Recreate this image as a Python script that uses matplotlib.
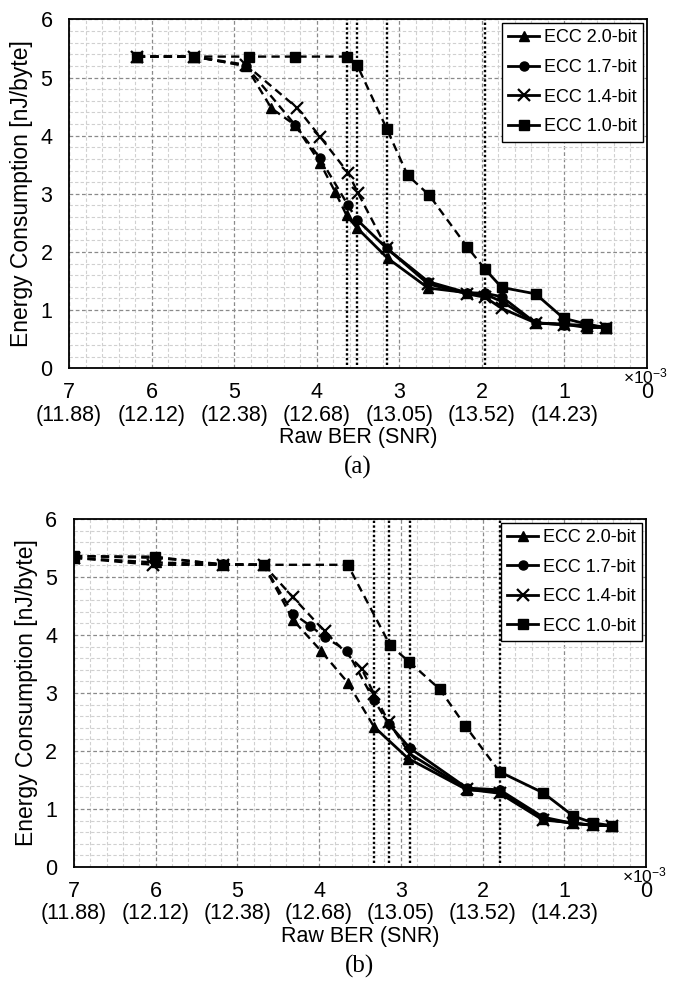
import numpy as np
import matplotlib.pyplot as plt
from matplotlib.ticker import MultipleLocator

plt.rcParams['font.family'] = ['Liberation Sans', 'DejaVu Sans']
plt.rcParams['mathtext.fontset'] = 'custom'
plt.rcParams['mathtext.rm'] = 'Liberation Sans'

names = ["ECC 2.0-bit", "ECC 1.7-bit", "ECC 1.4-bit", "ECC 1.0-bit"]
markers = ["^", "o", "x", "s"]

# panel (a)
a_x20 = [6.18, 5.49, 4.86, 4.55, 4.26, 3.96, 3.78, 3.64, 3.51, 3.14, 2.65, 2.18, 1.96, 1.76, 1.35, 1.01, 0.73, 0.50]
a_y20 = [5.36, 5.36, 5.20, 4.47, 4.18, 3.53, 3.04, 2.63, 2.41, 1.89, 1.38, 1.30, 1.27, 1.15, 0.78, 0.76, 0.70, 0.70]
a_x17 = [6.18, 5.49, 4.86, 4.26, 3.96, 3.62, 3.51, 3.15, 2.65, 2.18, 1.96, 1.76, 1.35, 1.01, 0.73, 0.50]
a_y17 = [5.36, 5.36, 5.20, 4.18, 3.61, 2.80, 2.55, 2.06, 1.49, 1.30, 1.29, 1.23, 0.78, 0.75, 0.74, 0.70]
a_x14 = [6.18, 5.49, 4.86, 4.24, 3.96, 3.62, 3.50, 3.15, 2.65, 2.18, 1.96, 1.76, 1.35, 1.01, 0.73, 0.50]
a_y14 = [5.36, 5.36, 5.22, 4.48, 3.98, 3.36, 3.01, 2.06, 1.45, 1.28, 1.22, 1.03, 0.78, 0.75, 0.73, 0.70]
a_x10 = [6.18, 5.49, 4.82, 4.26, 3.64, 3.51, 3.15, 2.90, 2.64, 2.18, 1.96, 1.76, 1.35, 1.01, 0.73, 0.50]
a_y10 = [5.36, 5.36, 5.36, 5.36, 5.36, 5.21, 4.11, 3.32, 2.98, 2.09, 1.70, 1.39, 1.28, 0.86, 0.76, 0.70]
a_limits = [3.64, 3.51, 3.15, 1.96]

# panel (b)
b_x20 = [7.0, 6.0, 5.18, 4.68, 4.32, 3.98, 3.65, 3.33, 2.91, 2.19, 1.79, 1.26, 0.89, 0.65, 0.41]
b_y20 = [5.33, 5.25, 5.22, 5.21, 4.26, 3.73, 3.18, 2.42, 1.87, 1.33, 1.30, 0.83, 0.75, 0.72, 0.71]
b_x17 = [7.0, 6.0, 5.18, 4.68, 4.32, 4.11, 3.93, 3.66, 3.33, 3.15, 2.89, 2.19, 1.79, 1.26, 0.89, 0.65, 0.41]
b_y17 = [5.36, 5.33, 5.22, 5.21, 4.37, 4.16, 3.96, 3.73, 2.88, 2.47, 2.05, 1.36, 1.33, 0.86, 0.75, 0.72, 0.71]
b_x14 = [7.0, 6.03, 5.18, 4.68, 4.32, 3.93, 3.48, 3.33, 3.15, 2.89, 2.19, 1.79, 1.26, 0.89, 0.65, 0.41]
b_y14 = [5.33, 5.21, 5.21, 5.21, 4.65, 4.06, 3.42, 2.99, 2.50, 1.95, 1.34, 1.27, 0.81, 0.76, 0.72, 0.71]
b_x10 = [7.0, 6.01, 5.18, 4.68, 3.65, 3.13, 2.90, 2.52, 2.21, 1.79, 1.26, 0.89, 0.65, 0.41]
b_y10 = [5.36, 5.35, 5.21, 5.21, 5.21, 3.82, 3.54, 3.06, 2.43, 1.64, 1.28, 0.88, 0.76, 0.71]
b_limits = [3.33, 3.15, 2.89, 1.79]

xticks = [7, 6, 5, 4, 3, 2, 1, 0]
xlabels = ["7\n(11.88)", "6\n(12.12)", "5\n(12.38)", "4\n(12.68)", "3\n(13.05)",
           "2\n(13.52)", "1\n(14.23)", "0\n"]


def panel(ax, xs, ys, limits, tag):
    ax.set_xlim(7, 0)
    ax.set_ylim(0, 6)
    ax.xaxis.set_major_locator(MultipleLocator(1))
    ax.xaxis.set_minor_locator(MultipleLocator(0.2))
    ax.yaxis.set_major_locator(MultipleLocator(1))
    ax.yaxis.set_minor_locator(MultipleLocator(0.2))
    ax.grid(which='major', color='#8a8a8a', linestyle=(0, (3, 2)), linewidth=0.9)
    ax.grid(which='minor', color='#d0d0d0', linestyle=(0, (3, 2)), linewidth=0.8)
    ax.set_axisbelow(True)

    # correction limit of each code
    for lim in limits:
        ax.axvline(lim, ymin=0.01, ymax=1, color='black', linestyle=(0, (1, 1)), linewidth=1.7, zorder=2)

    handles = []
    for x, y, lim, m, n in zip(xs, ys, limits, markers, names):
        x = np.array(x)
        y = np.array(y)
        d = x >= lim - 1e-9
        s = x <= lim + 1e-9
        ax.plot(x[d], y[d], color='black', linestyle=(0, (3.5, 2.2)), linewidth=1.7, zorder=3)
        ax.plot(x[s], y[s], color='black', linestyle='-', linewidth=2.0, zorder=3)
        mew = 1.6 if m == 'x' else 1.0
        ms = 8 if m == 'x' else 6.5
        ax.plot(x, y, linestyle='none', marker=m, color='black', ms=ms, mew=mew, zorder=4)
        h, = ax.plot([], [], color='black', linestyle='-', linewidth=2.0, marker=m, ms=ms, mew=mew, label=n)
        handles.append(h)

    leg = ax.legend(handles=handles, loc='upper right', fontsize=13, frameon=True, fancybox=False,
                    edgecolor='black', framealpha=1, borderaxespad=0.2, handlelength=1.7,
                    labelspacing=0.7, handletextpad=0.3, borderpad=0.35)
    leg.get_frame().set_linewidth(1.0)

    ax.set_xticks(xticks)
    ax.set_xticklabels(xlabels, fontsize=15.5, linespacing=1.1)
    ax.set_yticks(range(7))
    ax.tick_params(axis='y', labelsize=15.5, length=0, pad=12)
    ax.tick_params(axis='x', length=0, pad=10)
    ax.tick_params(which='minor', length=0)
    for sp in ax.spines.values():
        sp.set_linewidth(1.3)
    ax.set_ylabel("Energy Consumption [nJ/byte]", fontsize=16.5, labelpad=5)
    ax.set_xlabel("Raw BER (SNR)", fontsize=15.5, labelpad=1)
    ax.text(0.958, 0.004, r'$\mathregular{\times10^{-3}}$', transform=ax.transAxes,
            ha='left', va='top', fontsize=12.5)
    ax.text(0.5, -0.285, tag, transform=ax.transAxes, ha='center', va='center',
            fontsize=18, family='Liberation Serif')


fig = plt.figure(figsize=(6.85, 9.94), dpi=100)
ax1 = fig.add_axes([0.101, 0.6295, 0.8435, 0.351])
ax2 = fig.add_axes([0.108, 0.1278, 0.835, 0.3501])

panel(ax1, [a_x20, a_x17, a_x14, a_x10], [a_y20, a_y17, a_y14, a_y10], a_limits, "(a)")
panel(ax2, [b_x20, b_x17, b_x14, b_x10], [b_y20, b_y17, b_y14, b_y10], b_limits, "(b)")

fig.savefig("out.png", dpi=100)
